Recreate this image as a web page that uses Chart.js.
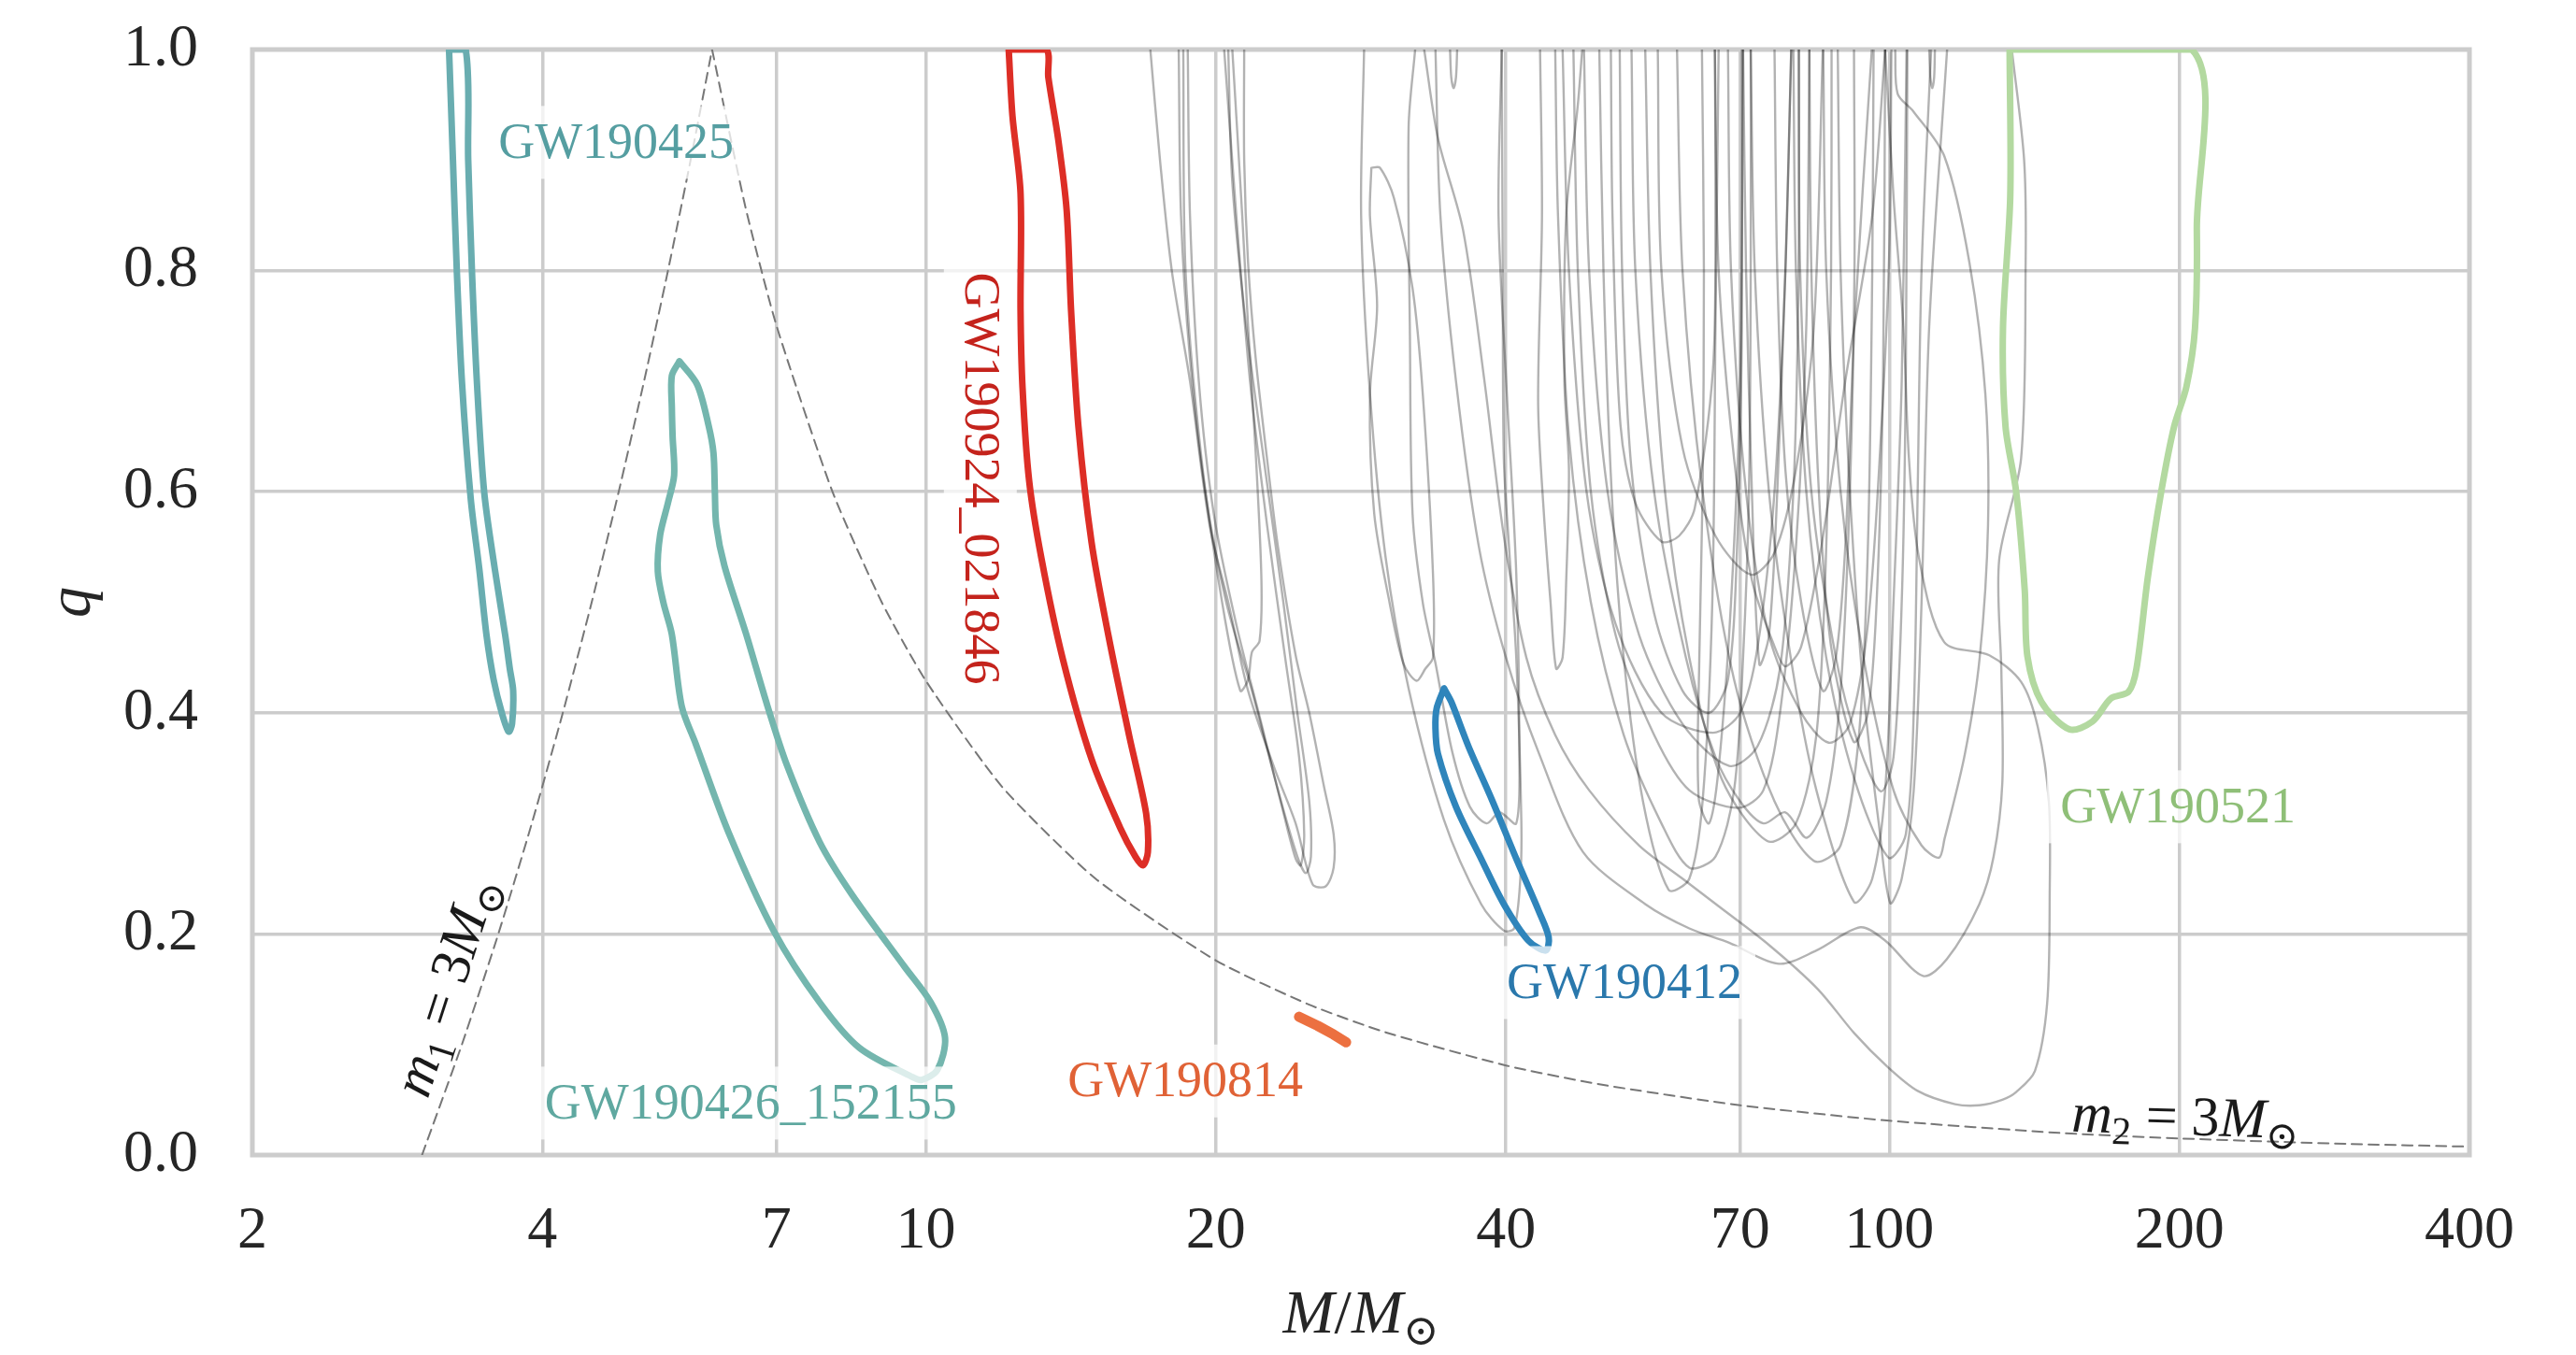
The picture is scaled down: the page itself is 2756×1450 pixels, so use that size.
<!DOCTYPE html>
<html>
<head>
<meta charset="utf-8">
<script src="https://cdn.jsdelivr.net/npm/chart.js@4.4.1/dist/chart.umd.min.js"></script>
<style>
  html, body { margin: 0; padding: 0; background: #fff; }
  #wrap { width: 2756px; height: 1450px; }
</style>
</head>
<body>
<div id="wrap"><canvas id="chart"></canvas></div>
<script>
// axis ticks
const massTicks = [2, 4, 7, 10, 20, 40, 70, 100, 200, 400];
const qTicks = [0, 0.2, 0.4, 0.6, 0.8, 1.0];

// highlighted events: [M/Msun, q]
const gw190425 = [[3.20,1.0],[3.23,0.9],[3.26,0.8],[3.30,0.7],[3.37,0.594],[3.44,0.53],[3.50,0.47],[3.56,0.43],[3.63,0.40],[3.69,0.383],[3.72,0.39],[3.73,0.42],[3.70,0.44],[3.66,0.47],[3.57,0.53],[3.48,0.6],[3.42,0.7],[3.38,0.8],[3.35,0.9],[3.33,1.0],[3.20,1.0]];
const gw190426 = [[5.55,0.718],[5.79,0.697],[5.95,0.66],[6.02,0.635],[6.04,0.6],[6.06,0.57],[6.18,0.533],[6.51,0.471],[6.85,0.406],[7.18,0.352],[7.76,0.283],[8.39,0.235],[9.51,0.17],[10.12,0.138],[10.47,0.106],[10.28,0.077],[9.9,0.068],[9.66,0.071],[8.53,0.097],[7.76,0.138],[6.96,0.202],[6.24,0.292],[5.77,0.372],[5.58,0.406],[5.45,0.471],[5.34,0.50],[5.27,0.528],[5.30,0.561],[5.40,0.59],[5.48,0.615],[5.46,0.65],[5.45,0.676],[5.45,0.705],[5.55,0.718]];
const gw190924 = [[12.19,1.0],[12.3,0.94],[12.54,0.87],[12.54,0.764],[12.6,0.694],[12.8,0.61],[13.18,0.54],[13.87,0.449],[14.86,0.358],[15.93,0.295],[16.5,0.27],[16.8,0.262],[17.0,0.274],[16.93,0.309],[16.26,0.379],[15.47,0.47],[14.86,0.554],[14.4,0.659],[14.15,0.764],[14.0,0.855],[13.72,0.919],[13.4,0.975],[13.33,1.0],[12.19,1.0]];
const gw190814 = [[24.4,0.125],[25.5,0.117],[26.5,0.109],[27.3,0.102]];
const gw190412 = [[34.5,0.422],[33.9,0.404],[33.8,0.386],[34.0,0.363],[35.5,0.315],[37.7,0.268],[39.8,0.227],[42.2,0.194],[44.0,0.185],[44.3,0.197],[43.3,0.22],[41.0,0.268],[38.7,0.321],[36.6,0.369],[35.1,0.41],[34.5,0.422]];
const gw190521 = [[133.3,1.0],[133.5,0.867],[131.2,0.748],[132,0.659],[135.4,0.6],[138.2,0.511],[139.1,0.451],[143.8,0.41],[153.8,0.385],[162.4,0.392],[169.8,0.413],[177.1,0.419],[180.5,0.44],[185.5,0.523],[191.5,0.6],[197.5,0.659],[203.4,0.695],[207.6,0.748],[208.5,0.837],[206,1.0],[133.3,1.0]];

// other events (grey)
const greyA1 = [[17.1,1],[17.5,0.9],[18.0,0.8],[18.8,0.7],[19.7,0.57],[20.6,0.5],[21.6,0.42],[23.0,0.35],[24.2,0.3],[25.2,0.245],[26.0,0.243],[26.5,0.26],[26.5,0.29],[25.9,0.333],[25.0,0.4],[24.2,0.452],[23.2,0.55],[22.6,0.63],[22.0,0.72],[21.6,0.807],[21.4,0.9],[21.4,1]];
const greyA2 = [[18.3,1],[18.4,0.85],[18.8,0.72],[19.5,0.6],[20.5,0.5],[21.8,0.42],[23.2,0.33],[24.3,0.27],[24.8,0.255],[25.1,0.27],[25.0,0.32],[24.3,0.4],[23.5,0.5],[22.5,0.62],[21.5,0.75],[20.8,0.88],[20.6,1]];
const greyA3 = [[18.7,1],[18.8,0.85],[19.2,0.7],[19.9,0.58],[21.0,0.48],[22.3,0.39],[23.5,0.31],[24.2,0.268],[24.5,0.262],[24.7,0.29],[24.4,0.36],[23.6,0.45],[22.6,0.57],[21.7,0.7],[21.0,0.85],[20.4,1]];
const greyA4 = [[18.5,1],[18.6,0.8],[19.3,0.634],[20.3,0.5],[21.2,0.42],[21.6,0.43],[21.8,0.455],[22.2,0.465],[22.3,0.52],[22.0,0.634],[21.6,0.75],[21.3,0.85],[20.8,1]];
const greyB1 = [[28.5,1],[28.3,0.85],[28.9,0.689],[30.0,0.541],[31.7,0.422],[34.5,0.303],[37.7,0.227],[39.8,0.203],[40.8,0.205],[41.4,0.25],[41.5,0.303],[41.0,0.45],[40.3,0.55],[39.8,0.63],[39.7,0.8],[39.6,1]];
const greyB2 = [[29.0,0.893],[28.9,0.85],[29.4,0.768],[28.9,0.687],[29.2,0.58],[30.3,0.499],[31.3,0.445],[32.3,0.429],[33.0,0.44],[33.6,0.45],[33.6,0.526],[32.8,0.687],[32.0,0.784],[30.6,0.866],[29.6,0.893],[29.0,0.893]];
const greyB3 = [[32.2,1],[31.7,0.93],[31.8,0.741],[32.0,0.58],[32.8,0.499],[33.8,0.445],[35.2,0.364],[36.7,0.315],[38.2,0.3],[39.4,0.31],[41.0,0.3],[41.3,0.364],[41.0,0.526],[40.1,0.687],[39.3,0.85],[39.6,1]];
const greyB4 = [[35.0,1],[35.1,0.975],[35.3,0.965],[35.5,0.975],[35.6,1]];
const greyDeep = [[32.9,1],[34,0.92],[36.1,0.837],[38,0.7],[39.8,0.56],[42,0.45],[45,0.38],[48.8,0.33],[55,0.28],[61,0.25],[66.5,0.225],[75,0.19],[84.3,0.15],[92,0.11],[99.5,0.08],[107,0.058],[117,0.046],[124,0.045],[131,0.05],[135.4,0.057],[141.6,0.076],[145.8,0.137],[146.7,0.237],[146.4,0.32],[142.6,0.387],[137,0.428],[127,0.452],[114,0.464],[107.3,0.541],[104.8,0.63],[103.4,0.75],[101,0.867],[99,1]];
const greyWavy = [[33.8,1],[34.2,0.85],[35.5,0.7],[37.5,0.55],[40,0.45],[43.3,0.363],[48.1,0.274],[55.8,0.227],[62,0.205],[68.2,0.192],[76.8,0.173],[84,0.185],[93.3,0.206],[99,0.194],[108.4,0.162],[114.7,0.177],[124,0.227],[128.3,0.27],[131,0.337],[130.7,0.437],[130,0.538],[137,0.63],[138.5,0.807],[138,0.9],[134,1]];
const greyC1 = [[51.4,1],[51.6,0.85],[52.6,0.66],[54.5,0.59],[58,0.555],[60.5,0.56],[62.8,0.585],[65.6,0.71],[66,0.85],[65.9,1]];
const greyC2 = [[45.0,1],[45.3,0.85],[46.5,0.65],[49,0.5],[53,0.38],[58,0.3],[62,0.26],[66,0.27],[69,0.33],[70.5,0.45],[71.5,0.6],[71.8,0.8],[71.8,1]];
const greyC3 = [[45.8,1],[46.5,0.8],[48.5,0.6],[52,0.48],[58,0.4],[65.6,0.382],[70,0.4],[73,0.46],[76,0.6],[78,0.8],[79.1,1]];
const greyC4 = [[48.2,1],[48.8,0.8],[51,0.6],[55,0.47],[61,0.39],[68.2,0.352],[73,0.37],[77,0.44],[79.5,0.6],[80.5,0.8],[80.5,1]];
const greyC5 = [[52.5,1],[52.8,0.8],[54,0.62],[57,0.49],[61,0.42],[65,0.40],[68,0.43],[69.5,0.55],[70.3,0.75],[70.3,1]];
const greyC6 = [[55.8,1],[56.5,0.8],[58.5,0.6],[62,0.45],[67,0.34],[74.7,0.284],[80,0.3],[84,0.38],[86,0.55],[87,0.8],[87.1,1]];
const greyC7 = [[57.5,1],[58,0.8],[61,0.64],[66,0.56],[71.8,0.525],[76,0.545],[80,0.62],[83.5,0.75],[85.3,1]];
const greyC8 = [[60.2,1],[61,0.8],[64,0.6],[69,0.43],[76,0.32],[83.5,0.266],[89,0.28],[93,0.38],[95,0.55],[96,0.8],[96.3,1]];
const greyC9 = [[65.9,1],[66.5,0.8],[69,0.63],[72,0.52],[76,0.46],[78,0.442],[81,0.46],[85,0.55],[90,0.7],[96,0.85],[99,1]];
const greyC10 = [[68,1],[68.5,0.8],[71,0.6],[75,0.47],[81,0.4],[86.5,0.373],[91,0.39],[95,0.48],[98,0.65],[100,0.82],[100.5,1]];
const greyC11 = [[71.8,1],[72.5,0.8],[75,0.6],[79,0.45],[84,0.33],[91.9,0.229],[96,0.25],[99,0.33],[101,0.5],[103,0.7],[104.2,1]];
const greyC12 = [[79.5,1],[80,0.8],[82,0.6],[86,0.45],[92,0.34],[99.8,0.269],[104,0.29],[106,0.4],[107,0.6],[108,0.8],[110.5,1]];
const greyC13 = [[82.6,1],[83,0.8],[84.5,0.6],[87,0.46],[91.8,0.374],[95,0.4],[97,0.5],[98.5,0.7],[99,1]];
const greyC14 = [[80.6,1],[80.8,0.8],[83,0.6],[88,0.45],[93,0.37],[98,0.329],[101,0.36],[103,0.5],[104,0.7],[104.4,1]];
const greyC15 = [[85.4,1],[86,0.8],[89,0.6],[94,0.45],[101,0.33],[108,0.28],[112.6,0.269],[114.1,0.286],[119.8,0.363],[124.1,0.45],[126.6,0.57],[125.8,0.688],[121.1,0.807],[114.1,0.903],[105.9,0.944],[102,0.96],[101.4,1]];
const greyC16 = [[88.4,1],[89,0.8],[91,0.6],[94,0.42],[97.5,0.3],[100.2,0.228],[103,0.25],[106,0.33],[108,0.5],[110,0.75],[114.8,1]];
const greyC17 = [[63.9,1],[64.2,0.8],[64,0.6],[63.5,0.45],[63.4,0.323],[65,0.3],[66.5,0.35],[68.5,0.5],[70,0.7],[70.5,1]];
const greyC18 = [[50,1],[50.5,0.8],[51.5,0.6],[53,0.45],[55.5,0.32],[59,0.24],[62,0.25],[64,0.32],[65.5,0.5],[66,0.75],[66.5,1]];
const greyC19 = [[70.5,1],[71,0.8],[72,0.6],[73.3,0.444],[75,0.47],[76.5,0.6],[78,0.8],[79.1,1]];
const greyC20 = [[47,1],[47.5,0.8],[49,0.6],[52,0.47],[57,0.38],[62,0.33],[69.7,0.314],[74,0.33],[77,0.4],[80,0.55],[82,0.75],[82.6,1]];
const greyC21 = [[43.4,1],[43.6,0.85],[43.2,0.68],[43.8,0.58],[44.5,0.5],[45.1,0.44],[45.8,0.45],[46.2,0.52],[46.5,0.62],[46,0.7],[46.2,0.85],[47.5,0.95],[48,1]];
const greyC22 = [[110.0,1],[110.3,0.975],[110.8,0.965],[111.3,0.975],[111.5,1]];
const greyC23 = [[54,1],[54.5,0.8],[57,0.6],[61.5,0.45],[66,0.36],[70,0.32],[74,0.3],[78,0.31],[82.1,0.287],[86,0.32],[89,0.42],[91,0.6],[92,0.8],[91.9,1]];
const greyC24 = [[76,1],[76.5,0.8],[78,0.62],[81,0.5],[85.3,0.42],[88,0.45],[90,0.55],[92,0.75],[95.9,1]];

const greyContours = [greyA1, greyA2, greyA3, greyA4, greyB1, greyB2, greyB3, greyB4, greyDeep, greyWavy,
  greyC1, greyC2, greyC3, greyC4, greyC5, greyC6, greyC7, greyC8, greyC9, greyC10, greyC11,
  greyC12, greyC13, greyC14, greyC15, greyC16, greyC17, greyC18, greyC19, greyC20, greyC21, greyC22,
  greyC23, greyC24];

// m1 = 3 Msun and m2 = 3 Msun boundaries
const m1Limit = [[3.0,0],[3.3,0.1],[3.6,0.2],[3.9,0.3],[4.2,0.4],[4.5,0.5],[4.8,0.6],[5.1,0.7],[5.4,0.8],[5.7,0.9],[6.0,1.0]];
const m2Limit = [[6.0,1.0],[6.5,0.857],[7,0.75],[8,0.6],[9,0.5],[10,0.429],[12,0.333],[15,0.25],[20,0.176],[25,0.136],[30,0.111],[40,0.081],[50,0.064],[70,0.045],[100,0.031],[150,0.020],[200,0.015],[300,0.010],[400,0.0076]];

const serif = '"Liberation Serif", "DejaVu Serif", serif';
const toPts = arr => arr.map(([m, q]) => ({ x: m, y: q }));

function contour(data, color, width, order) {
  return {
    data: toPts(data),
    showLine: true,
    pointRadius: 0,
    borderColor: color,
    borderWidth: width,
    tension: 0.3,
    borderCapStyle: "round",
    borderJoinStyle: "round",
    order: order,
  };
}

const datasets = [
  contour(gw190425, "#69adb0", 7, 0),
  contour(gw190426, "#74b6ae", 7, 0),
  contour(gw190924, "#dd2e26", 7, 0),
  Object.assign(contour(gw190814, "#ec7040", 11, 0), { tension: 0 }),
  contour(gw190412, "#2f85bb", 7, 0),
  contour(gw190521, "#b3d9a0", 7, 0),
];
greyContours.forEach(function (c) {
  datasets.push(contour(c, "rgba(0, 0, 0, 0.3)", 2.4, 2));
});
[m1Limit, m2Limit].forEach(function (c) {
  const d = contour(c, "#777777", 2, 3);
  d.borderDash = [11, 7];
  d.tension = 0.2;
  datasets.push(d);
});

// event labels: text, position (M, q), colour, rotation
const eventLabels = [
  { text: "GW190425", m: 4.77, q: 0.916, color: "#559ea1", rot: 0 },
  { text: "GW190426_152155", m: 6.58, q: 0.047, color: "#5fa8a0", rot: 0 },
  { text: "GW190924_021846", m: 11.39, q: 0.612, color: "#c4231c", rot: Math.PI / 2 },
  { text: "GW190814", m: 18.59, q: 0.067, color: "#e06236", rot: 0 },
  { text: "GW190412", m: 53.1, q: 0.156, color: "#2a78ac", rot: 0 },
  { text: "GW190521", m: 199.3, q: 0.315, color: "#8fbf78", rot: 0 },
];

function runFont(r, size) {
  return (r.it ? "italic " : "") + Math.round(r.sub ? size * 0.7 : size) + "px " + serif;
}

function drawRuns(ctx, runs, size) {
  let total = 0;
  runs.forEach(function (r) {
    ctx.font = runFont(r, size);
    r.w = ctx.measureText(r.t).width;
    total += r.w;
  });
  let x = -total / 2;
  ctx.textAlign = "left";
  ctx.textBaseline = "alphabetic";
  runs.forEach(function (r) {
    ctx.font = runFont(r, size);
    ctx.fillText(r.t, x, size * 0.33 + (r.sub ? size * 0.2 : 0));
    x += r.w;
  });
}

const annotate = {
  id: "annotate",
  beforeDatasetsDraw(chart) {
    const { ctx, chartArea: a } = chart;
    ctx.save();
    ctx.strokeStyle = "#cccccc";
    ctx.lineWidth = 5;
    ctx.strokeRect(a.left, a.top, a.right - a.left, a.bottom - a.top);
    ctx.restore();
  },
  afterDatasetsDraw(chart) {
    const { ctx, scales } = chart;
    const xs = scales.x, ys = scales.y;
    const size = 54;
    eventLabels.forEach(function (l) {
      ctx.save();
      ctx.translate(xs.getPixelForValue(l.m), ys.getPixelForValue(l.q));
      ctx.rotate(l.rot);
      ctx.font = size + "px " + serif;
      const w = ctx.measureText(l.text).width;
      ctx.fillStyle = "rgba(255, 255, 255, 0.75)";
      ctx.fillRect(-w / 2 - 14, -size * 0.5 - 12, w + 28, size + 24);
      ctx.fillStyle = l.color;
      ctx.textAlign = "center";
      ctx.textBaseline = "middle";
      ctx.fillText(l.text, 0, 2);
      ctx.restore();
    });

    // boundary labels
    ctx.fillStyle = "#1a1a1a";
    ctx.save();
    ctx.translate(xs.getPixelForValue(3.17), ys.getPixelForValue(0.153));
    ctx.rotate(-72 * Math.PI / 180);
    drawRuns(ctx, [{ t: "m", it: true }, { t: "1", sub: true }, { t: " = 3" }, { t: "M", it: true }, { t: "\u2299", sub: true }], 60);
    ctx.restore();
    ctx.save();
    ctx.translate(xs.getPixelForValue(202.9), ys.getPixelForValue(0.035));
    ctx.rotate(0.03);
    drawRuns(ctx, [{ t: "m", it: true }, { t: "2", sub: true }, { t: " = 3" }, { t: "M", it: true }, { t: "\u2299", sub: true }], 60);
    ctx.restore();
  },
  afterDraw(chart) {
    const { ctx, chartArea: a } = chart;
    ctx.save();
    ctx.fillStyle = "#262626";
    ctx.translate((a.left + a.right) / 2, 1404);
    drawRuns(ctx, [{ t: "M", it: true }, { t: "/" }, { t: "M", it: true }, { t: "\u2299", sub: true }], 66);
    ctx.restore();
    ctx.save();
    ctx.fillStyle = "#262626";
    ctx.translate(74, (a.top + a.bottom) / 2);
    ctx.rotate(-Math.PI / 2);
    drawRuns(ctx, [{ t: "q", it: true }], 66);
    ctx.restore();
  },
};

const ctx = document.getElementById("chart").getContext("2d");
const chart = new Chart(ctx, {
  type: "scatter",
  data: { datasets: datasets },
  options: {
    responsive: true,
    maintainAspectRatio: false,
    devicePixelRatio: 1,
    animation: false,
    layout: { padding: { top: 53, right: 114, left: 0, bottom: 0 } },
    plugins: {
      legend: { display: false },
      tooltip: { enabled: false },
    },
    scales: {
      x: {
        type: "logarithmic",
        min: 2,
        max: 400,
        afterBuildTicks: function (s) {
          s.ticks = massTicks.map(v => ({ value: v }));
        },
        afterFit: function (s) {
          s.height = 214;
          s.paddingLeft = 0;
          s.paddingRight = 0;
        },
        grid: { color: "#cccccc", lineWidth: 3.5, drawTicks: false },
        border: { display: false },
        ticks: {
          autoSkip: false,
          maxRotation: 0,
          padding: 44,
          color: "#262626",
          font: { family: serif, size: 64 },
          callback: v => String(v),
        },
      },
      y: {
        min: 0,
        max: 1,
        afterBuildTicks: function (s) {
          s.ticks = qTicks.map(v => ({ value: v }));
        },
        afterFit: function (s) {
          s.width = 270;
          s.paddingTop = 0;
          s.paddingBottom = 0;
        },
        grid: { color: "#cccccc", lineWidth: 3.5, drawTicks: false },
        border: { display: false },
        ticks: {
          padding: 58,
          color: "#262626",
          font: { family: serif, size: 64 },
          callback: v => Number(v).toFixed(1),
        },
      },
    },
  },
  plugins: [annotate],
});
</script>
</body>
</html>
